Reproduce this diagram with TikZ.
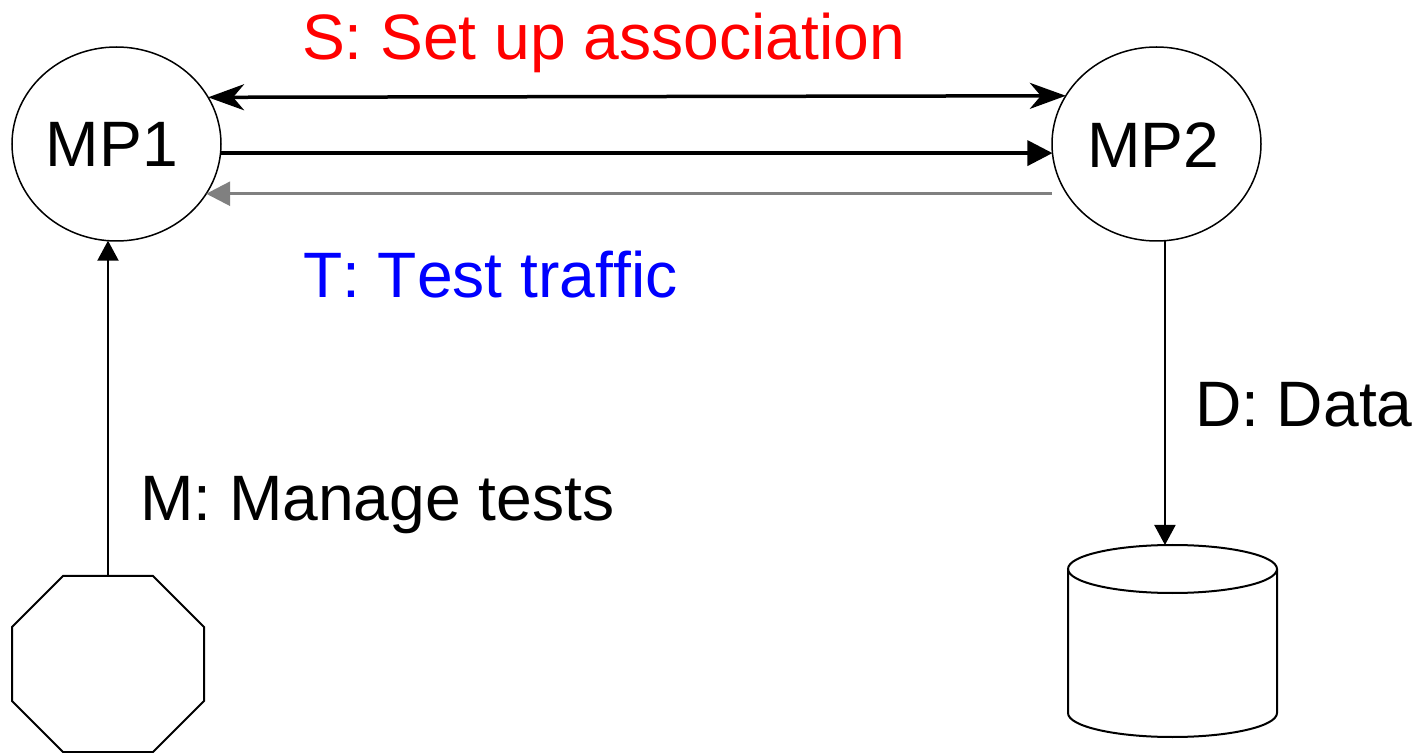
\documentclass[tikz,border=0pt]{standalone}
\usepackage{fontspec}
\setmainfont{Liberation Sans}[Ligatures=NoCommon,Kerning=Off]
\usetikzlibrary{arrows.meta,calc,shapes.geometric}
\definecolor{sred}{RGB}{255,0,0}
\definecolor{tblue}{RGB}{0,0,255}
\definecolor{tgray}{RGB}{128,128,128}
\tikzset{
  stltip/.tip={Stealth[length=18pt,width=13pt,inset=5.5pt]},
  blktip/.tip={Triangle[length=12.5pt,width=12.5pt]},
  graytip/.tip={Triangle[length=12pt,width=12pt]},
  smalltip/.tip={Triangle[length=10pt,width=10.5pt]}
}
\begin{document}
\begin{tikzpicture}[x=0.5pt,y=-0.5pt,
  mp/.style={ellipse, draw, line width=0.75pt, minimum width=104.5pt, minimum height=97pt, inner sep=0pt, outer sep=0pt},
  txt/.style={anchor=base west, inner sep=0pt, outer sep=0pt, font=\fontsize{32.1pt}{38pt}\selectfont},
  bigline/.style={line width=1.75pt},
  thinline/.style={line width=1pt}
]
\fill[white] (0,0) rectangle (1425,753);
\useasboundingbox (0,0) rectangle (1425,753);

% nodes
\node[mp] (MP1) at (116.5,144) {};
\node[mp] (MP2) at (1156.5,144) {};
\node[txt] (MP1t) at (46,167) {MP1};
\node[txt] (MP2t) at (1087,168) {MP2};

% octagon
\draw[thinline] (63,576) -- (153,576) -- (204,627) -- (204,701) -- (153,752) -- (63,752) -- (12,701) -- (12,627) -- cycle;
\coordinate (oct) at (108,576);

% cylinder
\draw[thinline] (1172.5,569) ellipse [x radius=104.5, y radius=24];
\draw[thinline] (1068,569) -- (1068,713) arc[start angle=180, end angle=0, x radius=104.5, y radius=24] -- (1277,569);
\coordinate (cyl) at (1164,545);

% connectors
\draw[bigline, stltip-stltip] (MP1.27.2) -- (MP2.152.8);
\draw[bigline, -blktip] (MP1.-5.5) -- (MP2.185.5);
\draw[line width=1.5pt, tgray, -graytip] (MP2.west |- MP1.-29.2) -- (MP1.-29.2);
\draw[thinline, -smalltip] (oct) -- (oct |- MP1.-95);
\draw[thinline, -smalltip] (MP2.-85.6) -- (MP2.-85.6 |- cyl);

% labels
\node[txt, text=sred] (S) at (302,60) {S: Set up association};
\node[txt, text=tblue] (T) at (303,298) {T: Test traffic};
\node[txt] (M) at (140,521) {M: Manage tests};
\node[txt] (D) at (1195,427) {D: Data};
\end{tikzpicture}
\end{document}
